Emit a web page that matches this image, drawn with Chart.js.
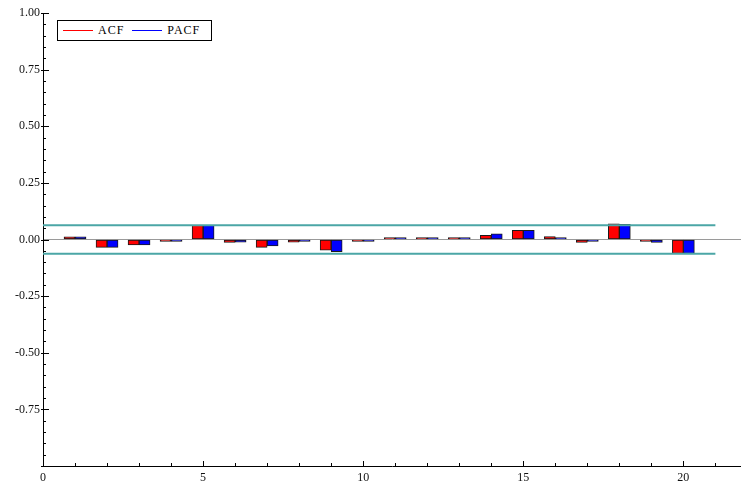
<!DOCTYPE html>
<html>
<head>
<meta charset="utf-8">
<script src="https://cdn.jsdelivr.net/npm/chart.js@4/dist/chart.umd.min.js"></script>
<style>
  html, body { margin: 0; padding: 0; background: #fff; }
  #wrap { position: relative; width: 741px; height: 489px; }
  #legend {
    position: absolute; left: 57px; top: 20px; width: 148px; height: 19px;
    border: 1px solid #000; background: #fff;
    font: 12px "Liberation Serif", "DejaVu Serif", serif; letter-spacing: 1px; color: #000;
    display: flex; align-items: center; padding-left: 5px; box-sizing: content-box;
  }
  #legend .item { display: flex; align-items: center; margin-right: 8px; }
  #legend .sample { display: inline-block; width: 30px; height: 1px; margin-right: 5px; }
</style>
</head>
<body>
<div id="wrap">
  <canvas id="acf"></canvas>
  <div id="legend"></div>
</div>
<script>
// lags and correlation values
const lags = [1, 2, 3, 4, 5, 6, 7, 8, 9, 10, 11, 12, 13, 14, 15, 16, 17, 18, 19, 20];
const acf  = [0.012, -0.035, -0.024, -0.002, 0.063, -0.013, -0.035, -0.012, -0.047, -0.001,
              0.003, 0.003, 0.003, 0.018, 0.041, 0.013, -0.013, 0.069, -0.004, -0.062];
const pacf = [0.012, -0.035, -0.024, -0.002, 0.063, -0.012, -0.028, -0.004, -0.054, -0.001,
              0.003, 0.003, 0.003, 0.025, 0.041, 0.004, -0.005, 0.067, -0.013, -0.062];
const seriesNames = ['ACF', 'PACF'];
const seriesColors = ['#ff0000', '#0000ff'];
// confidence band
const conf = 0.063;
const confSpan = [0, 21];
// axes
const xRange = [0, 21.8];
const yRange = [-1, 1];

const font = { family: '"Liberation Serif", "DejaVu Serif", serif', size: 12 };

function pts(vals) {
  return lags.map((l, i) => ({ x: l, y: vals[i] }));
}

function isMult(v, step) {
  return Math.abs(Math.round(v / step) * step - v) < 1e-9;
}

// inside tick marks like the original plot
const insideTicks = {
  id: 'insideTicks',
  afterDatasetsDraw(chart) {
    const ctx = chart.ctx;
    const xs = chart.scales.x, ys = chart.scales.y;
    ctx.save();
    ctx.strokeStyle = '#000';
    ctx.lineWidth = 1;
    ctx.beginPath();
    xs.ticks.forEach(t => {
      const px = Math.round(xs.getPixelForValue(t.value)) + 0.5;
      const len = isMult(t.value, 5) ? 5 : 3;
      ctx.moveTo(px, xs.top);
      ctx.lineTo(px, xs.top - len);
    });
    ys.ticks.forEach(t => {
      const py = Math.round(ys.getPixelForValue(t.value)) + 0.5;
      if (isMult(t.value, 0.25)) {
        ctx.moveTo(ys.right - 2, py);
        ctx.lineTo(ys.right + 6, py);
      } else {
        ctx.moveTo(ys.right, py);
        ctx.lineTo(ys.right + 3, py);
      }
    });
    ctx.stroke();
    ctx.restore();
  }
};

const ctx = document.getElementById('acf');
const chart = new Chart(ctx, {
  type: 'bar',
  data: {
    datasets: [
      {
        label: seriesNames[0],
        data: pts(acf),
        backgroundColor: seriesColors[0],
        borderColor: '#1a1a1a',
        borderWidth: 1,
        borderSkipped: false,
        barThickness: 11,
        minBarLength: 2,
        order: 2
      },
      {
        label: seriesNames[1],
        data: pts(pacf),
        backgroundColor: seriesColors[1],
        borderColor: '#1a1a1a',
        borderWidth: 1,
        borderSkipped: false,
        barThickness: 11,
        minBarLength: 2,
        order: 2
      },
      {
        type: 'line',
        label: 'upper',
        data: confSpan.map(x => ({ x: x, y: conf })),
        borderColor: '#4ba6a6',
        borderWidth: 2,
        pointRadius: 0,
        order: 1
      },
      {
        type: 'line',
        label: 'lower',
        data: confSpan.map(x => ({ x: x, y: -conf })),
        borderColor: '#4ba6a6',
        borderWidth: 2,
        pointRadius: 0,
        order: 1
      }
    ]
  },
  options: {
    responsive: true,
    maintainAspectRatio: false,
    animation: false,
    layout: { padding: { top: 13, right: 0, left: 0, bottom: 0 } },
    plugins: {
      legend: { display: false },
      tooltip: { enabled: false }
    },
    scales: {
      x: {
        type: 'linear',
        min: xRange[0],
        max: xRange[1],
        offset: false,
        grid: { display: true, offset: false, drawOnChartArea: false, drawTicks: false },
        border: { display: true, color: '#000', width: 1 },
        ticks: {
          stepSize: 1,
          includeBounds: false,
          autoSkip: false,
          maxRotation: 0,
          padding: 5,
          color: '#111',
          font: font,
          callback: v => isMult(v, 5) ? String(Math.round(v)) : ''
        },
        afterFit: s => { s.height = 23; }
      },
      y: {
        min: yRange[0],
        max: yRange[1],
        grid: {
          drawTicks: false,
          color: c => (c.tick && Math.abs(c.tick.value) < 1e-9) ? '#9a9a9a' : 'rgba(0,0,0,0)',
          lineWidth: 1
        },
        border: { display: true, color: '#000', width: 1 },
        ticks: {
          stepSize: 0.05,
          autoSkip: false,
          padding: 3,
          color: '#111',
          font: font,
          // the original leaves the bottom end (-1.00) unlabelled
          callback: v => (isMult(v, 0.25) && v > yRange[0] + 1e-9) ? v.toFixed(2) : ''
        },
        afterFit: s => { s.width = 43; }
      }
    }
  },
  plugins: [insideTicks]
});

// legend box inside the plot, built from the bar datasets
const legendEl = document.getElementById('legend');
chart.data.datasets.slice(0, 2).forEach(ds => {
  const item = document.createElement('span');
  item.className = 'item';
  const sample = document.createElement('span');
  sample.className = 'sample';
  sample.style.background = ds.backgroundColor;
  const txt = document.createElement('span');
  txt.textContent = ds.label;
  item.appendChild(sample);
  item.appendChild(txt);
  legendEl.appendChild(item);
});
</script>
</body>
</html>
